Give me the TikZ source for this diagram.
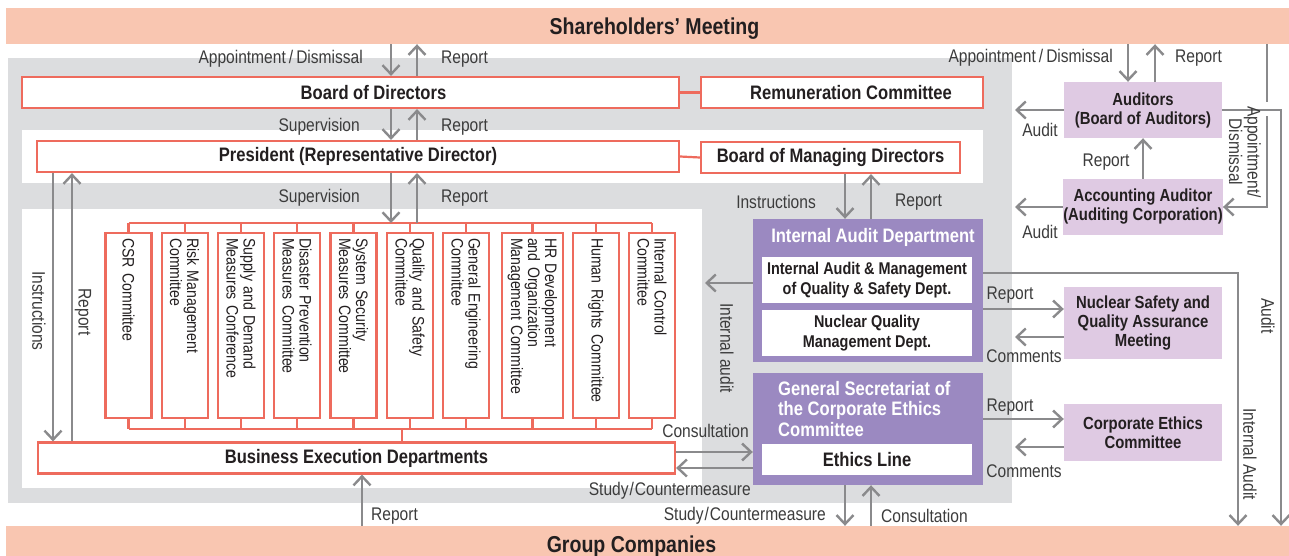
\documentclass[tikz,border=0pt]{standalone}
\usepackage{fontspec}
\setmainfont{Liberation Sans}[FakeStretch=0.85]
\usetikzlibrary{arrows.meta,calc,positioning}
\definecolor{bandc}{HTML}{F9C6B1}
\definecolor{redc}{HTML}{EE6B5D}
\definecolor{greyc}{HTML}{DCDDDF}
\definecolor{purpc}{HTML}{9B89C1}
\definecolor{lilac}{HTML}{DFCAE3}
\definecolor{arrc}{HTML}{8A8A8C}
\definecolor{lblc}{HTML}{3C3C3C}
\definecolor{txtc}{HTML}{231F20}
\newcommand\fband{\fontsize{23}{25}\selectfont\bfseries}
\newcommand\fmain{\fontsize{19.5}{20.5}\selectfont\bfseries}
\newcommand\fsub{\fontsize{17.5}{19}\selectfont\bfseries}
\newcommand\flbl{\fontsize{18.3}{18.5}\selectfont}
\newcommand\fcom{\fontsize{16.6}{17}\selectfont\hyphenpenalty=10000}
\tikzset{arr/.style={draw=arrc, line width=2.4pt, -{Straight Barb[length=9pt,width=17pt]}},
  ln/.style={draw=arrc, line width=2.4pt},
  redln/.style={draw=redc, line width=2.2pt},
  band/.style={fill=bandc, minimum width=1283pt, minimum height=36pt, inner sep=0pt,
    text height=16.5pt, text depth=0pt, font=\fband, text=txtc},
  redbox/.style={draw=redc, line width=2.2pt, fill=white, minimum height=31pt, inner sep=0pt, font=\fmain, text=txtc},
  comm/.style={draw=redc, line width=2.2pt, fill=white, rotate=-90, minimum width=185pt, minimum height=#1,
    text width=175pt, align=left, inner xsep=5pt, inner ysep=0pt, font=\fcom, text=txtc},
  pbox/.style={fill=purpc, minimum width=230pt, inner sep=0pt},
  ptitle/.style={text=white, inner sep=0pt, font=\fmain},
  wbox/.style={fill=white, minimum width=210pt, inner sep=0pt, align=center, font=\fsub, text=txtc},
  lbox/.style={fill=lilac, minimum width=158pt, inner sep=0pt, align=center, font=\fsub, text=txtc},
  lbl/.style={inner sep=1pt, font=\flbl, text=lblc}}

\begin{document}
\begin{tikzpicture}[x=1pt, y=-1pt]
  \useasboundingbox (0,0) rectangle (1289,555);
  \fill[white] (0,0) rectangle (1289,555);
  % grey company frame and white strips
  \fill[greyc] (8,58) rectangle (1012,503);
  \fill[white] (22,130) rectangle (983,183);
  \fill[white] (22,209) rectangle (702,488);

  \node[band] (share) at (647.5,26) {\hspace*{14pt}Shareholders' Meeting};
  \node[band] (grp) at (647.5,544) {Group Companies\hspace*{32pt}};

  % management chain
  \node[redbox, minimum width=657pt] (bod) at (350.5,92.5) {\hspace*{46pt}Board of Directors};
  \node[redbox, minimum width=282pt] (rem) at (842,92.5) {\hspace*{18pt}Remuneration Committee};
  \node[redbox, minimum width=642pt] (pres) at (358,156.5) {President (Representative Director)};
  \node[redbox, minimum width=259pt] (bomd) at (830.5,157.5) {Board of Managing Directors};
  \node[redbox, minimum width=637pt] (bed) at (356.5,458) {Business Execution Departments};
  \draw[redln] (bod.east) -- (rem.west);
  \draw[redln] (pres.east) -- (bomd.west);

  % committees
  \foreach \cx/\w/\txt [count=\i] in {128.5/46pt/{CSR Committee},
      184.6/46pt/{Risk Management\\Committee},
      241/46pt/{Supply and Demand\\Measures Conference},
      297/46pt/{Disaster Prevention\\Measures Committee},
      353.5/46pt/{System Security\\Measures Committee},
      410/46pt/{Quality and Safety\\Committee},
      466/46pt/{General Engineering\\Committee},
      532.5/61pt/{HR Development\\and Organization\\Management Committee},
      596/46pt/{Human Rights Committee},
      652/46pt/{Internal Control\\Committee}}
    \node[comm=\w] (c\i) at (\cx,325.5) {\txt};
  \coordinate (bustop) at (0,223);
  \coordinate (busbot) at (0,429);
  \coordinate (busdn) at (402,429);
  \draw[redln] (c1.west |- bustop) -- (c10.west |- bustop);
  \draw[redln] (c1.east |- busbot) -- (c10.east |- busbot);
  \foreach \i in {1,...,10} {
    \draw[redln] (c\i.west) -- (c\i.west |- bustop);
    \draw[redln] (c\i.east) -- (c\i.east |- busbot);
  }
  \draw[redln] (busdn) -- (bed.north -| busdn);

  % audit and ethics units
  \node[pbox, minimum height=143pt] (iad) at (868,290.5) {};
  \node[ptitle] (iadt) at (873,237) {Internal Audit Department};
  \node[wbox, minimum height=46pt, font=\fontsize{17}{19.3}\selectfont\bfseries] (qsd) at (867,280) {Internal Audit \& Management\\of Quality \& Safety Dept.};
  \node[wbox, minimum height=46pt, font=\fontsize{17}{19.3}\selectfont\bfseries] (nqd) at (867,333) {Nuclear Quality\\Management Dept.};
  \node[pbox, minimum height=112pt] (gsec) at (868,429) {};
  \node[ptitle, anchor=west, align=left] (gsect) at (778,409) {General Secretariat of\\the Corporate Ethics\\Committee};
  \node[wbox, minimum height=31pt, font=\fmain] (eth) at (867,459.5) {Ethics Line};

  \node[lbox, minimum height=56pt] (aud) at (1143,110) {Auditors\\(Board of Auditors)};
  \node[lbox, minimum height=56pt] (acc) at (1143,207) {Accounting Auditor\\(Auditing Corporation)};
  \node[lbox, minimum height=72pt] (nsq) at (1143,323) {Nuclear Safety and\\Quality Assurance\\Meeting};
  \node[lbox, minimum height=57pt] (ceth) at (1143,432.5) {Corporate Ethics\\Committee};

  % lanes
  \coordinate (xa) at (391,0);  \coordinate (xb) at (417,0);
  \coordinate (xi) at (53,0);   \coordinate (xr) at (72,0);
  \coordinate (xc) at (845,0);  \coordinate (xd) at (871,0);
  \coordinate (xe) at (362,0);  \coordinate (xf) at (1128,0);
  \coordinate (xg) at (1155,0); \coordinate (xad) at (1267,0);
  \coordinate (xau) at (1281,0); \coordinate (xia) at (1238,0);
  \coordinate (xl) at (1015,0); \coordinate (xil) at (705,0);
  \coordinate (ya) at (0,102);  \coordinate (yb) at (0,116);
  \coordinate (y273) at (0,273); \coordinate (y283) at (0,283);
  \coordinate (y309) at (0,309); \coordinate (y337) at (0,337);
  \coordinate (y419) at (0,419); \coordinate (y447) at (0,447);
  \coordinate (y452) at (0,452); \coordinate (y468) at (0,468);

  % vertical flows on the left
  \draw[arr] (share.south -| xa) -- (bod.north -| xa);
  \draw[arr] (bod.north -| xb) -- (share.south -| xb);
  \draw[arr] (bod.south -| xa) -- (pres.north -| xa);
  \draw[arr] (pres.north -| xb) -- (bod.south -| xb);
  \draw[arr] (pres.south -| xa) -- (xa |- bustop);
  \draw[arr] (xb |- bustop) -- (pres.south -| xb);
  \draw[arr] (pres.south -| xi) -- (bed.north -| xi);
  \draw[arr] (bed.north -| xr) -- (pres.south -| xr);
  \draw[arr] (grp.north -| xe) -- (bed.south -| xe);
  \draw[arr] (bomd.south -| xc) -- (iad.north -| xc);
  \draw[arr] (iad.north -| xd) -- (bomd.south -| xd);
  \draw[arr] (gsec.south -| xc) -- (grp.north -| xc);
  \draw[arr] (grp.north -| xd) -- (gsec.south -| xd);
  \draw[arr] (iad.west |- y283) -- (xil |- y283);
  \draw[arr] (bed.east |- y452) -- (gsec.west |- y452);
  \draw[arr] (gsec.west |- y468) -- (bed.east |- y468);

  % auditors side
  \draw[arr] (share.south -| xf) -- (aud.north -| xf);
  \draw[arr] (aud.north -| xg) -- (share.south -| xg);
  \draw[arr] (aud.west) -- (aud.west -| xl);
  \draw[arr] (acc.west) -- (acc.west -| xl);
  \draw[arr] (acc.north) -- (aud.south);
  \draw[arr] (aud.east) -| (grp.north -| xau);
  \draw[ln] (share.south -| xad) -- (xad |- ya);
  \draw[arr] (xad |- yb) |- (acc.east);
  \draw[arr] (iad.east |- y273) -| (grp.north -| xia);
  \draw[arr] (iad.east |- y309) -- (nsq.west |- y309);
  \draw[arr] (nsq.west |- y337) -- (xl |- y337);
  \draw[arr] (gsec.east |- y419) -- (ceth.west |- y419);
  \draw[arr] (ceth.west |- y447) -- (xl |- y447);

  % labels
  \node[lbl, anchor=east] (tapp) at (364,59) {Appointment\,/\,Dismissal};
  \node[lbl, anchor=west] (trep1) at (440,59) {Report};
  \node[lbl, anchor=east] (tsup1) at (361,127) {Supervision};
  \node[lbl, anchor=west] (trep2) at (440,127) {Report};
  \node[lbl, anchor=east] (tsup2) at (361,198) {Supervision};
  \node[lbl, anchor=west] (trep3) at (440,198) {Report};
  \node[lbl, rotate=-90] (tins1) at (39,311) {Instructions};
  \node[lbl, rotate=-90] (trep4) at (83,312) {Report};
  \node[lbl, anchor=east] (tins2) at (817,202) {Instructions};
  \node[lbl, anchor=west] (trep5) at (894,202) {Report};
  \node[lbl, rotate=-90] (tiau) at (727,348) {Internal audit};
  \node[lbl, anchor=east] (tcon1) at (750,431) {Consultation};
  \node[lbl, anchor=east] (tstu1) at (752,491) {Study\kern1pt/\kern1ptCountermeasure};
  \node[lbl, anchor=east] (tstu2) at (827,516) {Study\kern1pt/\kern1ptCountermeasure};
  \node[lbl, anchor=west] (tcon2) at (880,516) {Consultation};
  \node[lbl, anchor=west] (trep6) at (370,516) {Report};
  \node[lbl, anchor=east] (tapp2) at (1114,58) {Appointment\,/\,Dismissal};
  \node[lbl, anchor=west] (trep7) at (1174,58) {Report};
  \node[lbl] (taud1) at (1040,130) {Audit};
  \node[lbl] (taud2) at (1040,232) {Audit};
  \node[lbl] (trep8) at (1106,162) {Report};
  \node[lbl, rotate=-90, align=center] (tapp3) at (1245,152) {Appointment/\\Dismissal};
  \node[lbl, rotate=-90] (taud3) at (1268,316) {Audit};
  \node[lbl, rotate=-90] (tiau2) at (1250,454) {Internal Audit};
  \node[lbl] (trep9) at (1010,295) {Report};
  \node[lbl] (tcom1) at (1024,356) {Comments};
  \node[lbl] (trep10) at (1010,407) {Report};
  \node[lbl] (tcom2) at (1024,471) {Comments};
\end{tikzpicture}
\end{document}
